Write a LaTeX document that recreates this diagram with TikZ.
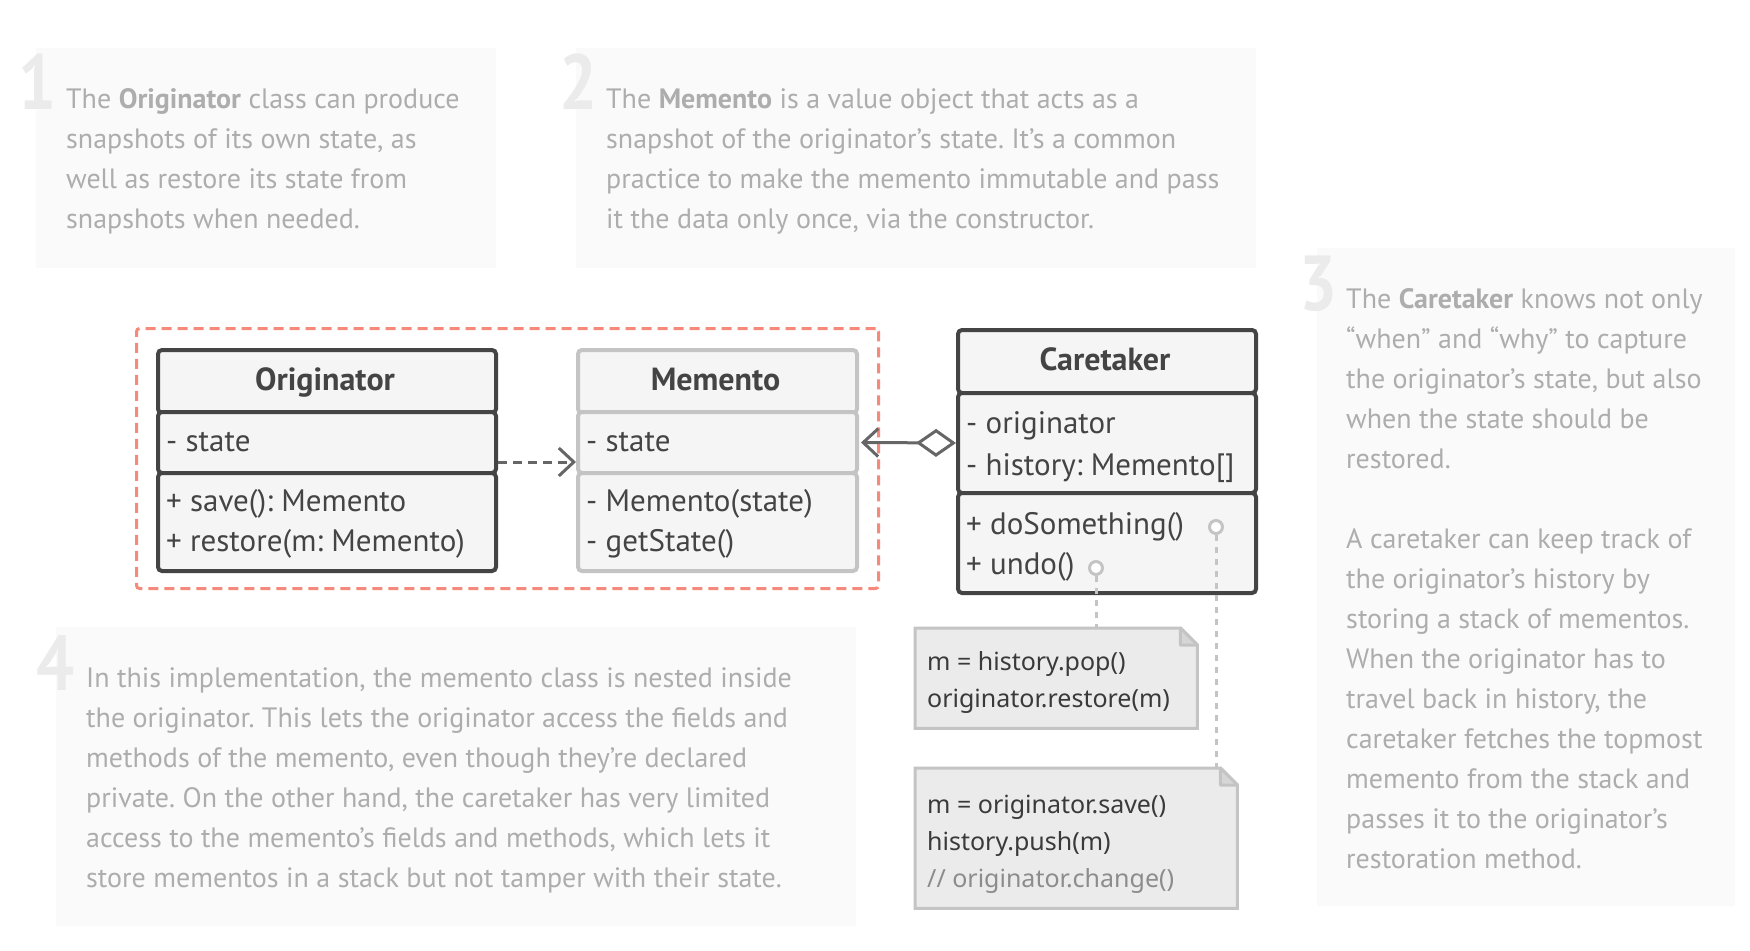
\documentclass[tikz,border=0pt]{standalone}
\usepackage{fontspec}
\setmainfont{PT Sans}
\newfontfamily\numfont[FakeStretch=0.86]{PT Sans Bold}
\newfontfamily\notofont{Noto Sans}
\usetikzlibrary{arrows.meta,calc}
\frenchspacing
\definecolor{bgc}{HTML}{FAFAFA}
\definecolor{numc}{HTML}{EBEBEB}
\definecolor{parac}{HTML}{ADADAD}
\definecolor{darkc}{HTML}{444444}
\definecolor{lightc}{HTML}{C4C4C4}
\definecolor{cfill}{HTML}{F5F5F5}
\definecolor{redc}{HTML}{F58A7A}
\definecolor{arrc}{HTML}{666666}
\definecolor{notefill}{HTML}{EBEBEB}
\definecolor{notetext}{HTML}{3A3A3A}
\definecolor{commentc}{HTML}{8C8C8C}
\tikzset{
  bgbox/.style={fill=bgc, draw=none, inner sep=0, anchor=north west},
  bignum/.style={text=numc, font=\numfont\fontsize{78}{78}\selectfont, inner sep=0, anchor=base west},
  para/.style={text=parac, align=left, inner sep=0, anchor=base west, font=\frenchspacing\fontsize{28}{40}\selectfont},
  comp/.style={draw=darkc, fill=cfill, line width=4pt, rounded corners=4pt, inner sep=0, anchor=north west},
  lcomp/.style={comp, draw=lightc},
  umltext/.style={text=darkc, inner sep=0, anchor=base west, align=left, font=\fontsize{31}{40}\selectfont},
  umltitle/.style={text=darkc, inner sep=0, anchor=base, font=\bfseries\fontsize{32}{32}\selectfont},
  notebox/.style={draw=none, inner sep=0, anchor=north west},
  notepath/.style={draw=lightc, fill=notefill, line width=3pt},
  foldpath/.style={draw=lightc, fill=lightc!70, line width=3pt, line join=round},
  notetxt/.style={text=notetext, inner sep=0, anchor=base west, align=left, font=\notofont\fontsize{25}{37}\selectfont},
  dotline/.style={draw=lightc, line width=3pt, dash pattern=on 6pt off 6pt},
  port/.style={circle, draw=lightc, fill=white, line width=3pt, minimum size=13pt, inner sep=0}
}
\begin{document}
\begin{tikzpicture}[x=1pt,y=-1pt]
\useasboundingbox[fill=white] (0,0) rectangle (1750,950);
% background boxes
\node[bgbox, minimum width=460pt, minimum height=220pt] (b1) at (36,48) {};
\node[bgbox, minimum width=680pt, minimum height=220pt] (b2) at (576,48) {};
\node[bgbox, minimum width=418pt, minimum height=658pt] (b3) at (1317,248) {};
\node[bgbox, minimum width=800pt, minimum height=299pt] (b4) at (56,627) {};
% numbers
\node[bignum] (n1) at (18,109) {1};
\node[bignum] (n2) at (559,109) {2};
\node[bignum] (n3) at (1299,310) {3};
\node[bignum] (n4) at (36,690) {4};
% paragraphs (anchor = baseline of last line)
\node[para] (t1) at (66,228)
 {The \textbf{Originator} class can produce\\snapshots of its own state, as\\well as restore its state from\\snapshots when needed.};
\node[para] (t2) at (606,228)
 {The \textbf{Memento} is a value object that acts as a\\snapshot of the originator’s state. It’s a common\\practice to make the memento immutable and pass\\it the data only once, via the constructor.};
\node[para] (t3) at (1346,868)
 {The \textbf{Caretaker} knows not only\\“when” and “why” to capture\\the originator’s state, but also\\when the state should be\\restored.\\[40pt]A caretaker can keep track of\\the originator’s history by\\storing a stack of mementos.\\When the originator has to\\travel back in history, the\\caretaker fetches the topmost\\memento from the stack and\\passes it to the originator’s\\restoration method.};
\node[para] (t4) at (86,887)
 {In this implementation, the memento class is nested inside\\the originator. This lets the originator access the fields and\\methods of the memento, even though they’re declared\\private. On the other hand, the caretaker has very limited\\access to the memento’s fields and methods, which lets it\\store mementos in a stack but not tamper with their state.};
% dashed red group
\node[draw=redc, line width=3pt, dash pattern=on 10pt off 6pt, rounded corners=3pt, inner sep=0, anchor=north west, minimum width=742pt, minimum height=260pt] (grp) at (135,327) {};
% Originator
\node[comp, minimum width=338pt, minimum height=63pt] (ohead) at (156,348) {};
\node[comp, minimum width=338pt, minimum height=61pt] (oattr) at (156,410) {};
\node[comp, minimum width=338pt, minimum height=98pt] (ometh) at (156,471) {};
\node[umltitle] (otit) at (325,390) {Originator};
\node[umltext] (oat) at (166,451) {- state};
\node[umltext] (ome) at (166,551) {+ save(): Memento\\+ restore(m: Memento)};
% Memento
\node[lcomp, minimum width=279pt, minimum height=63pt] (mhead) at (576,348) {};
\node[lcomp, minimum width=279pt, minimum height=61pt] (mattr) at (576,410) {};
\node[lcomp, minimum width=279pt, minimum height=98pt] (mmeth) at (576,471) {};
\node[umltitle] (mtit) at (715.5,390) {Memento};
\node[umltext] (mat) at (586,451) {- state};
\node[umltext] (mme) at (586,551) {- Memento(state)\\- getState()};
% Caretaker
\node[comp, minimum width=298pt, minimum height=63pt] (chead) at (956,328) {};
\node[comp, minimum width=298pt, minimum height=100pt] (cattr) at (956,391) {};
\node[comp, minimum width=298pt, minimum height=100pt] (cmeth) at (956,491) {};
\node[umltitle] (ctit) at (1105,370) {Caretaker};
\node[umltext, font=\fontsize{31}{42}\selectfont] (cat) at (966,475) {- originator\\- history: Memento[]};
\node[umltext] (cme) at (966,574) {+ doSomething()\\+ undo()};
% relations
\draw[arrc, line width=3pt, dash pattern=on 9pt off 6pt, -{Straight Barb[length=15pt,width=28pt,line width=3pt]}]
  ([yshift=13pt]oattr.south east) -- ([yshift=13pt]mattr.south west);
\draw[arrc, line width=3pt, {Straight Barb[length=15pt,width=28pt,line width=3pt]}-{Diamond[open,length=40pt,width=28pt,line width=3pt,fill=white]}]
  ([xshift=2pt]mattr.east) -- (cattr.west);
% notes
\node[notebox, minimum width=282pt, minimum height=100pt] (note1) at (915,628) {};
\node[notebox, minimum width=322pt, minimum height=140pt] (note2) at (915,768) {};
\foreach \n in {note1,note2}{
  \path[notepath] (\n.north west) -- ([xshift=-17pt]\n.north east) -- ([yshift=-17pt]\n.north east) -- (\n.south east) -- (\n.south west) -- cycle;
  \path[foldpath] ([xshift=-17pt]\n.north east) -- ([xshift=-17pt,yshift=-17pt]\n.north east) -- ([yshift=-17pt]\n.north east) -- cycle;
}
\node[notetxt] (nt1) at (927,707) {m = history.pop()\\originator.restore(m)};
\node[notetxt] (nt2) at (927,887) {m = originator.save()\\history.push(m)\\\textcolor{commentc}{// originator.change()}};
% ports and dotted links
\node[port] (p1) at (1216,527) {};
\node[port] (p2) at (1096,568) {};
\draw[dotline] (p1.south) -- (p1.south |- note2.north);
\draw[dotline] (p2.south) -- (p2.south |- note1.north);
\end{tikzpicture}
\end{document}
